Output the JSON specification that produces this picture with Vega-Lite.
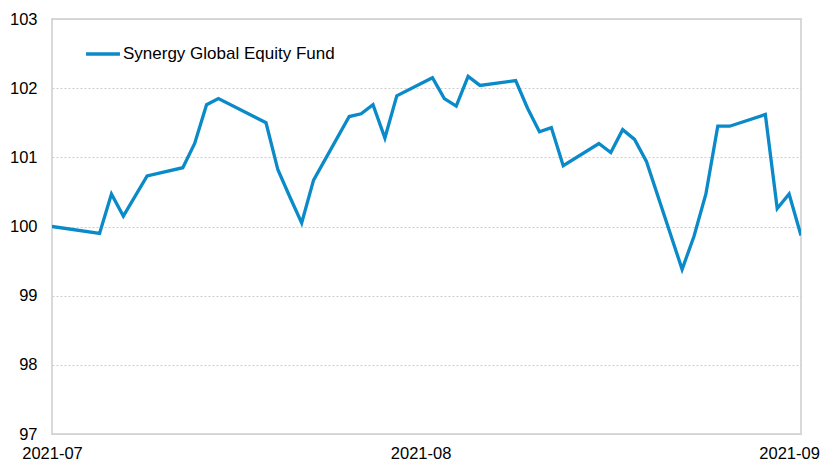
{
  "$schema": "https://vega.github.io/schema/vega-lite/v6.json",
  "autosize": {"type": "none"},
  "width": 749,
  "height": 415,
  "padding": {"left": 52, "top": 19, "right": 21, "bottom": 27},
  "background": "white",
  "config": {
    "font": "Liberation Sans",
    "view": {"stroke": "#d9d9d9", "strokeWidth": 2}
  },
  "data": {
    "values": [
      {"date": "2021-07-01", "value": 100.0, "series": "Synergy Global Equity Fund"},
      {"date": "2021-07-05", "value": 99.9, "series": "Synergy Global Equity Fund"},
      {"date": "2021-07-06", "value": 100.47, "series": "Synergy Global Equity Fund"},
      {"date": "2021-07-07", "value": 100.15, "series": "Synergy Global Equity Fund"},
      {"date": "2021-07-09", "value": 100.73, "series": "Synergy Global Equity Fund"},
      {"date": "2021-07-12", "value": 100.85, "series": "Synergy Global Equity Fund"},
      {"date": "2021-07-13", "value": 101.2, "series": "Synergy Global Equity Fund"},
      {"date": "2021-07-14", "value": 101.76, "series": "Synergy Global Equity Fund"},
      {"date": "2021-07-15", "value": 101.85, "series": "Synergy Global Equity Fund"},
      {"date": "2021-07-19", "value": 101.5, "series": "Synergy Global Equity Fund"},
      {"date": "2021-07-20", "value": 100.82, "series": "Synergy Global Equity Fund"},
      {"date": "2021-07-21", "value": 100.43, "series": "Synergy Global Equity Fund"},
      {"date": "2021-07-22", "value": 100.05, "series": "Synergy Global Equity Fund"},
      {"date": "2021-07-23", "value": 100.67, "series": "Synergy Global Equity Fund"},
      {"date": "2021-07-26", "value": 101.59, "series": "Synergy Global Equity Fund"},
      {"date": "2021-07-27", "value": 101.63, "series": "Synergy Global Equity Fund"},
      {"date": "2021-07-28", "value": 101.76, "series": "Synergy Global Equity Fund"},
      {"date": "2021-07-29", "value": 101.28, "series": "Synergy Global Equity Fund"},
      {"date": "2021-07-30", "value": 101.89, "series": "Synergy Global Equity Fund"},
      {"date": "2021-08-02", "value": 102.15, "series": "Synergy Global Equity Fund"},
      {"date": "2021-08-03", "value": 101.85, "series": "Synergy Global Equity Fund"},
      {"date": "2021-08-04", "value": 101.74, "series": "Synergy Global Equity Fund"},
      {"date": "2021-08-05", "value": 102.17, "series": "Synergy Global Equity Fund"},
      {"date": "2021-08-06", "value": 102.04, "series": "Synergy Global Equity Fund"},
      {"date": "2021-08-09", "value": 102.11, "series": "Synergy Global Equity Fund"},
      {"date": "2021-08-10", "value": 101.71, "series": "Synergy Global Equity Fund"},
      {"date": "2021-08-11", "value": 101.37, "series": "Synergy Global Equity Fund"},
      {"date": "2021-08-12", "value": 101.43, "series": "Synergy Global Equity Fund"},
      {"date": "2021-08-13", "value": 100.88, "series": "Synergy Global Equity Fund"},
      {"date": "2021-08-16", "value": 101.2, "series": "Synergy Global Equity Fund"},
      {"date": "2021-08-17", "value": 101.07, "series": "Synergy Global Equity Fund"},
      {"date": "2021-08-18", "value": 101.4, "series": "Synergy Global Equity Fund"},
      {"date": "2021-08-19", "value": 101.26, "series": "Synergy Global Equity Fund"},
      {"date": "2021-08-20", "value": 100.94, "series": "Synergy Global Equity Fund"},
      {"date": "2021-08-23", "value": 99.38, "series": "Synergy Global Equity Fund"},
      {"date": "2021-08-24", "value": 99.86, "series": "Synergy Global Equity Fund"},
      {"date": "2021-08-25", "value": 100.47, "series": "Synergy Global Equity Fund"},
      {"date": "2021-08-26", "value": 101.45, "series": "Synergy Global Equity Fund"},
      {"date": "2021-08-27", "value": 101.45, "series": "Synergy Global Equity Fund"},
      {"date": "2021-08-30", "value": 101.62, "series": "Synergy Global Equity Fund"},
      {"date": "2021-08-31", "value": 100.26, "series": "Synergy Global Equity Fund"},
      {"date": "2021-09-01", "value": 100.47, "series": "Synergy Global Equity Fund"},
      {"date": "2021-09-02", "value": 99.87, "series": "Synergy Global Equity Fund"}
    ]
  },
  "mark": {"type": "line", "strokeWidth": 3.3, "strokeJoin": "miter", "clip": true},
  "encoding": {
    "x": {
      "field": "date",
      "type": "temporal",
      "scale": {"type": "utc", "domain": [{"year": 2021, "month": 7, "date": 1, "utc": true}, {"year": 2021, "month": 9, "date": 2, "utc": true}]},
      "axis": {
        "title": null,
        "grid": false,
        "domain": false,
        "ticks": false,
        "tickCount": {"interval": "month", "step": 1},
        "format": "%Y-%m",
        "labelFont": "Liberation Sans",
        "labelFontSize": 16.5,
        "labelColor": "#000000",
        "labelPadding": 11,
        "labelFlush": false,
        "labelOverlap": false
      }
    },
    "y": {
      "field": "value",
      "type": "quantitative",
      "scale": {"domain": [97, 103], "nice": false, "zero": false},
      "axis": {
        "title": null,
        "values": [97, 98, 99, 100, 101, 102, 103],
        "domain": false,
        "ticks": false,
        "grid": true,
        "gridColor": "#cccccc",
        "gridDash": [2, 2],
        "gridWidth": 1,
        "labelFont": "Liberation Sans",
        "labelFontSize": 16.5,
        "labelColor": "#000000",
        "labelPadding": 15
      }
    },
    "color": {
      "field": "series",
      "type": "nominal",
      "scale": {"range": ["#0a8ac8"]},
      "legend": {
        "title": null,
        "orient": "none",
        "legendX": 32,
        "legendY": 16,
        "padding": 0,
        "symbolType": "stroke",
        "symbolStrokeWidth": 3.3,
        "symbolSize": 1150,
        "labelFont": "Liberation Sans",
        "labelFontSize": 17,
        "labelColor": "#000000",
        "labelOffset": 1,
        "labelLimit": 0
      }
    }
  }
}
